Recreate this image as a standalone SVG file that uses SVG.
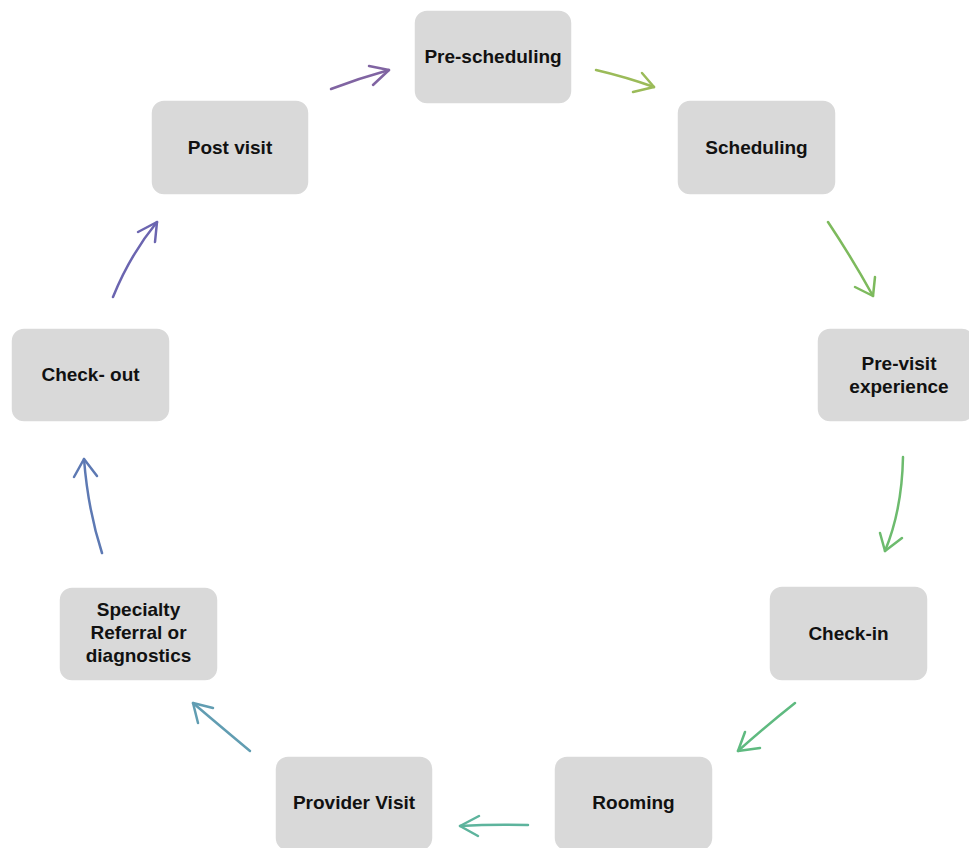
<svg xmlns="http://www.w3.org/2000/svg" width="969" height="848" viewBox="0 0 969 848">
<style>
.box{fill:#d9d9d9;stroke:#ffffff;stroke-width:1.5}
.lbl{font-family:"Liberation Sans",Arial,sans-serif;font-weight:bold;font-size:19px;fill:#111111;text-anchor:middle}
.c{fill:none;stroke-width:2.5;stroke-linecap:round;stroke-linejoin:round}
</style>
<rect width="969" height="848" fill="#ffffff"/>
<g id="connectors">
<g stroke="#8064a2" class="c"><path class="c" stroke="#8064a2" d="M331,89 Q360,78 389,70"/><path class="c" stroke="#8064a2" d="M369,66 L389,70 L373,85"/></g>
<g><path class="c" stroke="#9bbb59" d="M596,70 Q626,77 654,87"/><path class="c" stroke="#9bbb59" d="M642,73 L654,87 L633,92"/></g>
<g><path class="c" stroke="#7dba5d" d="M828,222 Q852,258 873,296"/><path class="c" stroke="#7dba5d" d="M875,277 L873,296 L855,287"/></g>
<g><path class="c" stroke="#6dbb6e" d="M903,457 Q902,510 885,551"/><path class="c" stroke="#6dbb6e" d="M880,533 L885,551 L902,538"/></g>
<g><path class="c" stroke="#5fba80" d="M795,703 Q766,726 738,751"/><path class="c" stroke="#5fba80" d="M745,732 L738,751 L760,748"/></g>
<g><path class="c" stroke="#5db49d" d="M528,825 Q492,824 460,826"/><path class="c" stroke="#5db49d" d="M479,816 L460,826 L478,836"/></g>
<g><path class="c" stroke="#619db2" d="M250,751 Q220,726 193,703"/><path class="c" stroke="#619db2" d="M198,723 L193,703 L213,708"/></g>
<g><path class="c" stroke="#5d79b3" d="M102,553 Q88,510 84,459"/><path class="c" stroke="#5d79b3" d="M74,477 L84,459 L97,476"/></g>
<g><path class="c" stroke="#6b65b0" d="M113,297 Q130,255 157,222"/><path class="c" stroke="#6b65b0" d="M138,232 L157,222 L155,242"/></g>
</g>
<g id="pre-scheduling"><rect class="box" x="414" y="10" width="158" height="94" rx="13"/><text class="lbl" x="493" y="63">Pre-scheduling</text></g>
<g id="scheduling"><rect class="box" x="677" y="100" width="159" height="95" rx="13"/><text class="lbl" x="756.5" y="154">Scheduling</text></g>
<g id="pre-visit"><rect class="box" x="817" y="328" width="158" height="94" rx="13"/><text class="lbl" x="899" y="370">Pre-visit</text><text class="lbl" x="899" y="393">experience</text></g>
<g id="check-in"><rect class="box" x="769" y="586" width="159" height="95" rx="13"/><text class="lbl" x="848.5" y="640">Check-in</text></g>
<g id="rooming"><rect class="box" x="554" y="756" width="159" height="95" rx="13"/><text class="lbl" x="633.5" y="809">Rooming</text></g>
<g id="provider-visit"><rect class="box" x="275" y="756" width="158" height="95" rx="13"/><text class="lbl" x="354" y="809">Provider Visit</text></g>
<g id="specialty"><rect class="box" x="59" y="587" width="159" height="94" rx="13"/><text class="lbl" x="138.5" y="616">Specialty</text><text class="lbl" x="138.5" y="639">Referral or</text><text class="lbl" x="138.5" y="662">diagnostics</text></g>
<g id="check-out"><rect class="box" x="11" y="328" width="159" height="94" rx="13"/><text class="lbl" x="90.5" y="381">Check- out</text></g>
<g id="post-visit"><rect class="box" x="151" y="100" width="158" height="95" rx="13"/><text class="lbl" x="230" y="154">Post visit</text></g>
</svg>
